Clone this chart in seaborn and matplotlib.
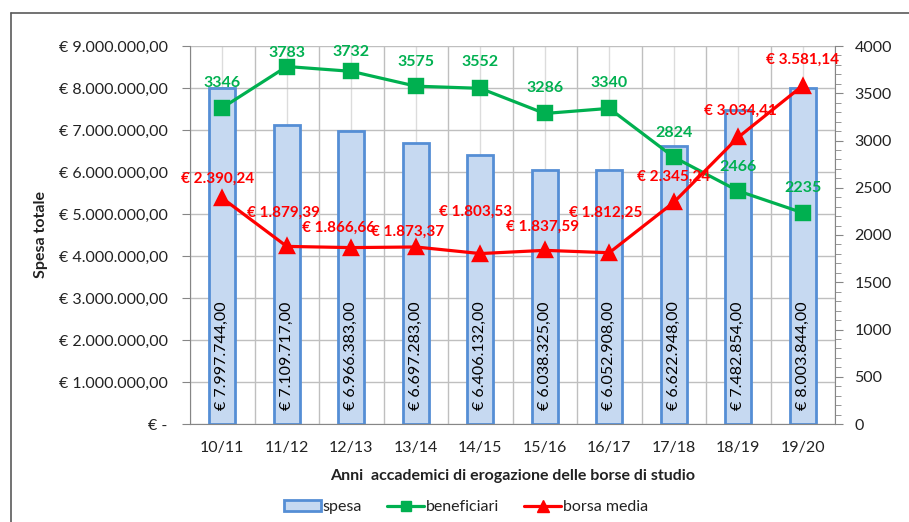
import numpy as np
import pandas as pd
import seaborn as sns
import matplotlib.pyplot as plt
from matplotlib.ticker import FuncFormatter, MultipleLocator
from matplotlib.patches import Patch
from matplotlib.lines import Line2D

anni = ['10/11', '11/12', '12/13', '13/14', '14/15', '15/16', '16/17', '17/18', '18/19', '19/20']
spesa = [7997744.00, 7109717.00, 6966383.00, 6697283.00, 6406132.00,
         6038325.00, 6052908.00, 6622948.00, 7482854.00, 8003844.00]
beneficiari = [3346, 3783, 3732, 3575, 3552, 3286, 3340, 2824, 2466, 2235]
borsa_media = [2390.24, 1879.39, 1866.66, 1873.37, 1803.53,
               1837.59, 1812.25, 2345.24, 3034.41, 3581.14]

# label placement (pixels) as in the original sheet
green_dy = [25, 14, 19, 24, 26, 25, 25, 24, 24, 25]
red_dx = [-5, -3, -13, -8, -5, -2, -4, 0, 2, 0]
red_dy = [19, 34, 20, 15, 42, 24, 40, 26, 26, 26]

df = pd.DataFrame({'anno': anni, 'spesa': spesa,
                   'beneficiari': beneficiari, 'borsa': borsa_media})

sns.set_style('white')
plt.rcParams['font.family'] = ['Lato', 'DejaVu Sans']

GREEN = '#00b050'
RED = '#ff0000'
BAR_FILL = '#c6d9f1'
BAR_EDGE = '#558ed5'
GRID = '#bfbfbf'
AX = '#868686'
TXT = '#222222'
FS = 11.5
XLABEL = 'Anni  accademici di erogazione delle borse di studio'


def euro(v, dec=2):
    if v == 0:
        return '€ -'
    s = f'{v:,.{dec}f}'
    s = s.replace(',', 'X').replace('.', ',').replace('X', '.')
    return '€ ' + s


fig = plt.figure(figsize=(9.09, 5.22), dpi=100)
ax = fig.add_axes([190 / 909, 1 - 424 / 522, 645 / 909, 378 / 522])

sns.barplot(data=df, x='anno', y='spesa', color=BAR_FILL, width=0.4,
            edgecolor=BAR_EDGE, linewidth=2, saturation=1, ax=ax, zorder=2)
ax.set_ylim(0, 9000000)
ax.set_xlim(-0.5, 9.5)
ax.yaxis.set_major_locator(MultipleLocator(1000000))
ax.yaxis.set_major_formatter(FuncFormatter(lambda v, p: euro(v)))
ax.set_xticks(range(10))
ax.set_xticks(np.arange(-0.5, 10, 1), minor=True)
ax.set_xticklabels(anni)
ax.tick_params(axis='x', which='major', length=0, pad=12, labelsize=FS, labelcolor=TXT)
ax.tick_params(axis='x', which='minor', length=6, direction='inout', color=AX, width=1)
ax.tick_params(axis='y', length=6, direction='out', color=AX, labelsize=FS,
               labelcolor=TXT, pad=10, left=True)
ax.grid(axis='y', color=GRID, lw=1)
ax.grid(axis='x', which='minor', color=GRID, lw=1)
ax.grid(axis='x', which='major', color='#dcdcdc', lw=1)
ax.set_axisbelow(True)
for s in ['top', 'right']:
    ax.spines[s].set_visible(False)
for s in ['left', 'bottom']:
    ax.spines[s].set_color(AX)

ax.set_ylabel('Spesa totale', fontsize=FS, fontweight='bold', color=TXT, labelpad=8)

for i, v in enumerate(spesa):
    ax.annotate(euro(v), (i, 0), xytext=(0, 14), textcoords='offset pixels',
                rotation=90, ha='center', va='bottom', fontsize=FS, color='black')

ax2 = ax.twinx()
sns.pointplot(data=df, x='anno', y='beneficiari', color=GREEN, marker='s',
              markersize=10, linewidth=2.3, errorbar=None, ax=ax2)
sns.pointplot(data=df, x='anno', y='borsa', color=RED, marker='^',
              markersize=10, linewidth=2.3, errorbar=None, ax=ax2)
ax2.set_ylim(0, 4000)
ax2.set_xlim(-0.5, 9.5)
ax2.yaxis.set_major_locator(MultipleLocator(500))
ax2.yaxis.set_minor_locator(MultipleLocator(100))
ax2.tick_params(axis='y', which='major', length=6, color=AX, labelsize=FS,
                labelcolor=TXT, pad=8, right=True)
ax2.tick_params(axis='y', which='minor', length=4, color=AX, right=True)
ax2.set_ylabel('')
ax2.set_xlabel('')
for s in ['top', 'left', 'bottom']:
    ax2.spines[s].set_visible(False)
ax2.spines['right'].set_color(AX)
ax2.grid(False)

ax.set_xlabel(XLABEL, fontsize=FS, fontweight='bold', color=TXT, labelpad=10)

for i, v in enumerate(beneficiari):
    ax2.annotate(str(v), (i, v), xytext=(0, green_dy[i]), textcoords='offset pixels',
                 ha='center', va='center', fontsize=FS, fontweight='bold', color=GREEN)
for i, v in enumerate(borsa_media):
    ax2.annotate(euro(v), (i, v), xytext=(red_dx[i], red_dy[i]), textcoords='offset pixels',
                 ha='center', va='center', fontsize=FS - 0.5, fontweight='bold', color=RED)

handles = [
    Patch(facecolor=BAR_FILL, edgecolor=BAR_EDGE, linewidth=2),
    Line2D([], [], color=GREEN, lw=2.3, marker='s', markersize=7),
    Line2D([], [], color=RED, lw=2.3, marker='^', markersize=8),
]
fig.legend(handles, ['spesa', 'beneficiari', 'borsa media'], loc='center',
           bbox_to_anchor=(466 / 909, 1 - 507 / 522), ncol=3, frameon=False,
           fontsize=FS, handlelength=2.3, handletextpad=0.1, columnspacing=1.6,
           labelcolor=TXT)

# outer chart frame
fig.add_artist(Line2D([11 / 909, 11 / 909], [0, 1 - 13 / 522], color='#5a5a5a', lw=1.2))
fig.add_artist(Line2D([11 / 909, 1], [1 - 13 / 522, 1 - 13 / 522], color='#5a5a5a', lw=1.2))

fig.savefig('out.png', dpi=100)
